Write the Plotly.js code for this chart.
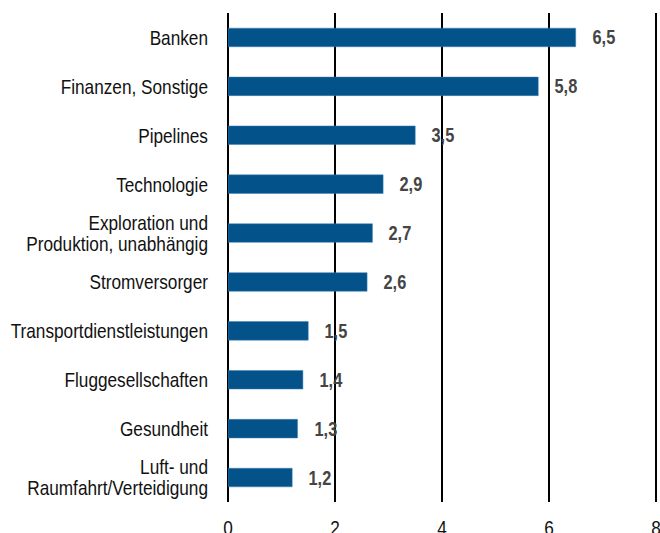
<!DOCTYPE html>
<html><head><meta charset="utf-8">
<script src="https://cdn.plot.ly/plotly-3.0.1.min.js"></script>
<style>html,body{margin:0;padding:0;background:#fff}#chart{width:660px;height:533px}</style>
</head><body><div id="chart"></div>
<script>
const categories = ["Banken","Finanzen, Sonstige","Pipelines","Technologie","Exploration und<br>Produktion, unabhängig","Stromversorger","Transportdienstleistungen","Fluggesellschaften","Gesundheit","Luft- und<br>Raumfahrt/Verteidigung"];
const values = [6.5,5.8,3.5,2.9,2.7,2.6,1.5,1.4,1.3,1.2];
const valueLabels = ["6,5","5,8","3,5","2,9","2,7","2,6","1,5","1,4","1,3","1,2"];
const xTicks = [0,2,4,6,8];

const FONT = '"Liberation Sans Narrow", "Arial Narrow", "Liberation Sans", Arial, sans-serif';
const NARROW = 0.82;

const trace = {
  type:'bar', orientation:'h', x: values, y: categories,
  marker:{color:'#03528a', line:{color:'#3f7fb0', width:0.5}},
  width:0.38, hoverinfo:'skip'
};
const annotations = values.map((v,i)=>({
  x:v, y:categories[i], xref:'x', yref:'y', text:valueLabels[i],
  showarrow:false, xanchor:'left', xshift:12,
  font:{family:FONT, size:20, color:'#454545', weight:'bold'}
}));
const layout = {
  width:660, height:533,
  margin:{l:228, r:3, t:13, b:31},
  paper_bgcolor:'#fff', plot_bgcolor:'#fff',
  showlegend:false,
  font:{family:FONT, size:21, color:'#111'},
  xaxis:{range:[0,8.02], tickvals:xTicks, ticktext:xTicks.map(String), showgrid:true, gridcolor:'#000', gridwidth:2,
         zeroline:true, zerolinecolor:'#000', zerolinewidth:2, showline:false, ticks:'', fixedrange:true,
         ticklabelstandoff:11, ticklabeloverflow:'allow',
         tickfont:{family:FONT, size:21, color:'#111'}},
  yaxis:{categoryorder:'array', categoryarray:categories, autorange:'reversed', showgrid:false, zeroline:false,
         showline:false, ticks:'', ticklabelstandoff:19, fixedrange:true,
         tickfont:{family:FONT, size:21, color:'#111'}},
  annotations: annotations,
  bargap:0.62
};
Plotly.newPlot('chart',[trace],layout,{displayModeBar:false, staticPlot:true}).then(gd=>{
  gd.querySelectorAll('.ytick text, .xtick text, .annotation-text').forEach(t=>{
    const cx = parseFloat(t.getAttribute('x')) || 0;
    let prev = t.getAttribute('transform') || '';
    // tighter line spacing for two-line labels
    const lines = t.querySelectorAll('tspan.line');
    if (lines.length > 1) {
      lines.forEach((ts,k)=>{ if (k>0) ts.setAttribute('dy','1em'); });
      prev += ` translate(0,${0.3*21*(lines.length-1)/2})`;
    }
    // emulate a condensed face: scale text horizontally around its anchor point
    t.setAttribute('transform', prev + ` translate(${cx},0) scale(${NARROW},1) translate(${-cx},0)`);
  });
});
</script></body></html>
